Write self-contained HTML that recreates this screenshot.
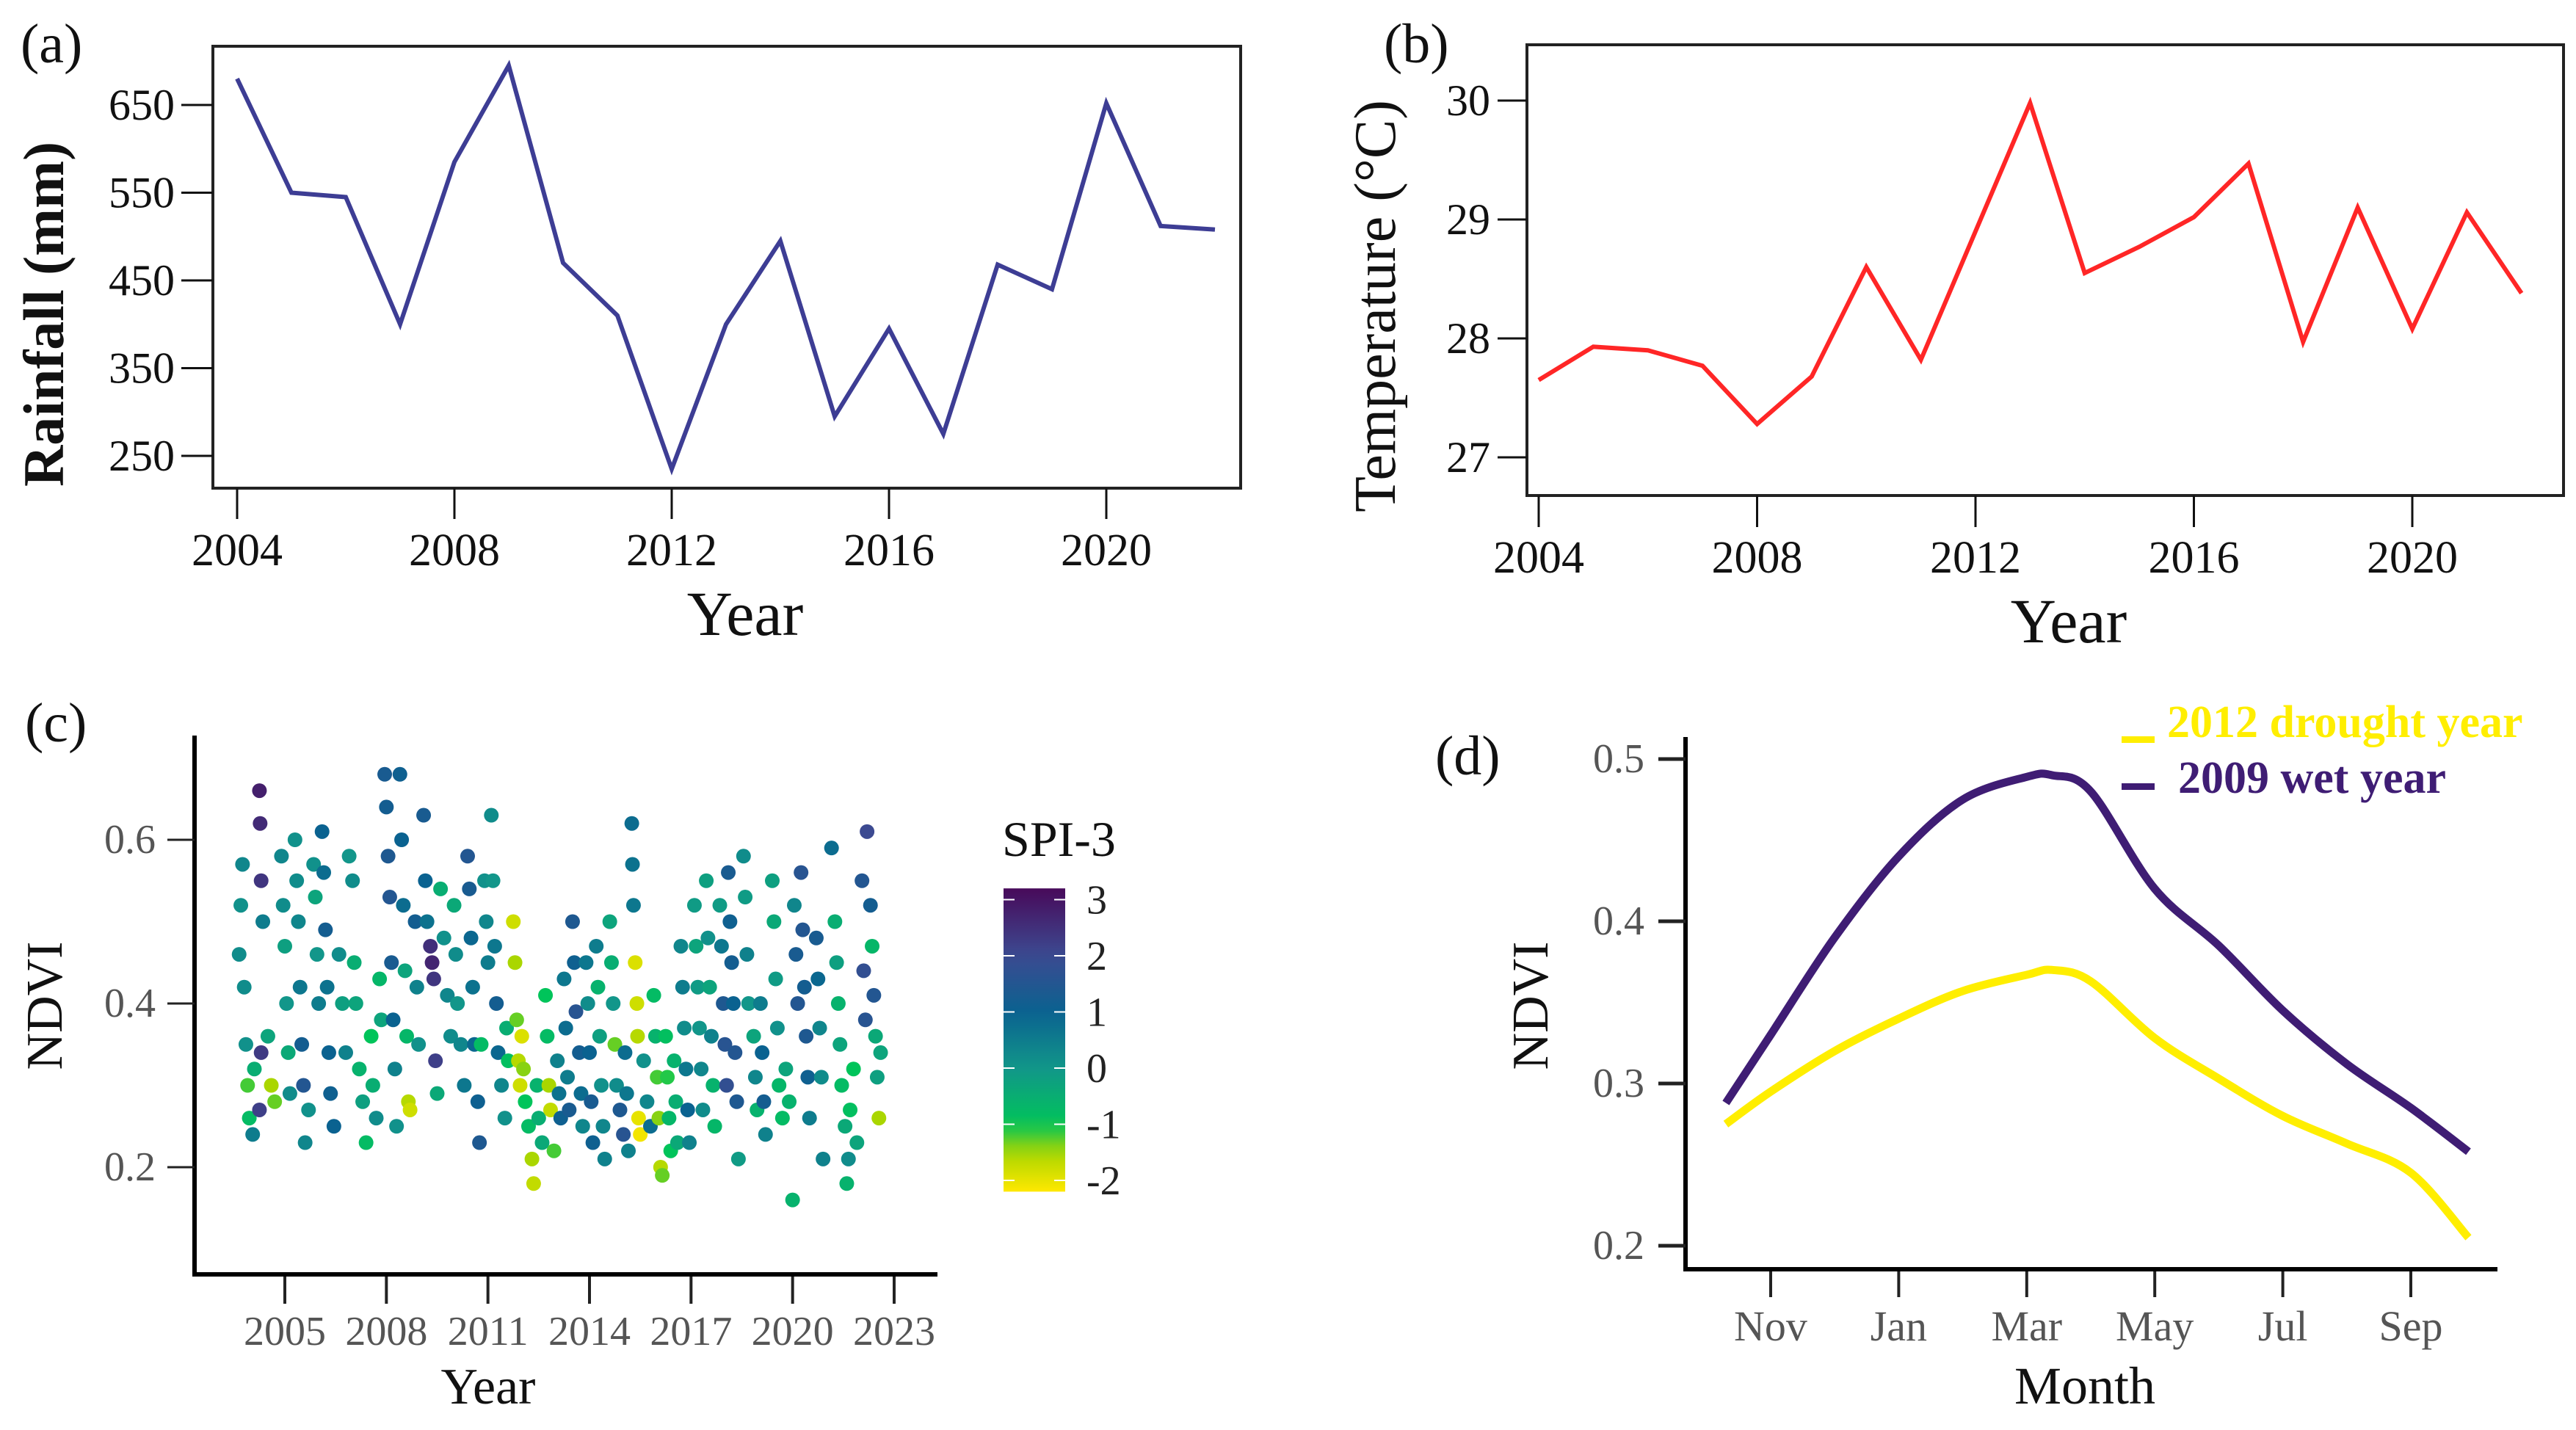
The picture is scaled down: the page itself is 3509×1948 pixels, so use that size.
<!DOCTYPE html>
<html><head><meta charset="utf-8">
<style>
html,body{margin:0;padding:0;background:#fff;}
svg{display:block;font-family:"Liberation Serif",serif;}
</style></head>
<body>
<svg id="fig" width="3509" height="1948" viewBox="0 0 3509 1948" xmlns="http://www.w3.org/2000/svg">
<rect x="0" y="0" width="3509" height="1948" fill="#fff"/>
<g id="pa"></g>
<g id="pb"></g>
<g id="pc"></g>
<g id="pd"></g>
</svg>
<script>
// ---- Panel (a) data ----
const rainYears = [2004,2005,2006,2007,2008,2009,2010,2011,2012,2013,2014,2015,2016,2017,2018,2019,2020,2021,2022];
const rainValues = [680,550,545,400,585,695,470,410,235,400,495,295,395,275,468,440,652,512,508];
const rainYTicks = [250,350,450,550,650];
const rainXTicks = [2004,2008,2012,2016,2020];
// ---- Panel (b) data ----
const tempYears = [2004,2005,2006,2007,2008,2009,2010,2011,2012,2013,2014,2015,2016,2017,2018,2019,2020,2021,2022];
const tempValues = [27.65,27.93,27.9,27.77,27.28,27.68,28.6,27.82,28.9,29.98,28.55,28.77,29.02,29.47,27.97,29.1,28.08,29.06,28.38];
const tempYTicks = [27,28,29,30];
const tempXTicks = [2004,2008,2012,2016,2020];
// ---- Panel (c) data ----
const ndviTime = [2003.65,2003.7,2003.75,2003.8,2003.85,2003.9,2003.95,2004.05,2004.1,2004.25,2004.27,2004.3,2004.3,2004.25,2004.35,2004.5,2004.6,2004.7,
2004.9,2004.95,2005.0,2005.05,2005.1,2005.15,2005.3,2005.35,2005.4,2005.45,2005.5,2005.55,2005.6,2005.7,
2005.85,2005.9,2005.95,2006.0,2006.1,2006.15,2006.2,2006.25,2006.3,2006.35,2006.45,2006.6,2006.7,2006.8,
2006.9,2007.0,2007.05,2007.1,2007.2,2007.3,2007.4,2007.55,2007.6,2007.7,2007.8,2007.85,
2007.95,2008.0,2008.05,2008.1,2008.15,2008.2,2008.25,2008.3,2008.4,2008.45,2008.5,2008.55,2008.6,2008.65,2008.7,
2008.85,2008.9,2008.95,2009.1,2009.15,2009.2,2009.3,2009.35,2009.4,2009.45,2009.5,2009.6,2009.7,2009.8,2009.9,
2010.0,2010.05,2010.1,2010.2,2010.3,2010.4,2010.45,2010.5,2010.55,2010.6,2010.7,2010.75,2010.8,
2010.9,2010.95,2011.0,2011.1,2011.15,2011.2,2011.25,2011.3,2011.4,2011.5,2011.55,2011.6,
2011.75,2011.8,2011.85,2011.9,2011.95,2012.0,2012.05,2012.1,2012.2,2012.3,2012.35,2012.45,2012.5,2012.6,
2012.7,2012.75,2012.8,2012.85,2012.95,2013.05,2013.1,2013.15,2013.25,2013.3,2013.35,2013.4,2013.5,2013.55,2013.6,
2013.7,2013.75,2013.8,2013.9,2013.95,2014.0,2014.05,2014.1,2014.2,2014.25,2014.3,2014.35,2014.4,2014.45,
2014.6,2014.65,2014.7,2014.75,2014.8,2014.9,2015.0,2015.05,2015.1,2015.15,2015.25,2015.27,2015.3,2015.35,2015.4,2015.42,
2015.45,2015.5,2015.6,2015.7,2015.8,2015.9,2015.95,2016.0,2016.05,2016.1,2016.15,
2016.25,2016.3,2016.35,2016.4,2016.5,2016.55,2016.6,2016.7,2016.75,2016.8,2016.85,2016.9,2016.95,
2017.1,2017.15,2017.2,2017.25,2017.3,2017.35,2017.45,2017.5,2017.55,2017.6,2017.65,2017.7,
2017.85,2017.9,2017.95,2018.0,2018.05,2018.1,2018.15,2018.2,2018.25,2018.3,2018.35,2018.4,2018.55,2018.6,2018.65,2018.7,
2018.85,2018.9,2018.95,2019.05,2019.1,2019.15,2019.2,
2019.4,2019.45,2019.5,2019.55,2019.6,2019.7,2019.8,2019.9,2020.0,2020.05,2020.1,2020.15,2020.25,2020.3,2020.35,2020.4,2020.45,2020.5,2020.7,2020.75,2020.8,2020.85,2020.9,
2021.15,2021.25,2021.3,2021.35,2021.4,2021.45,2021.55,2021.6,2021.65,2021.7,2021.8,2021.9,2022.05,2022.1,2022.15,2022.2,2022.3,2022.35,2022.4,2022.45,2022.5,2022.55,2022.6];
const ndviValue = [0.46,0.52,0.57,0.42,0.35,0.30,0.26,0.24,0.32,0.66,0.62,0.55,0.34,0.27,0.50,0.36,0.30,0.28,
0.58,0.52,0.47,0.40,0.34,0.29,0.60,0.55,0.50,0.42,0.35,0.30,0.23,0.27,
0.57,0.53,0.46,0.40,0.61,0.56,0.49,0.42,0.34,0.29,0.25,0.46,0.40,0.34,
0.58,0.55,0.45,0.40,0.32,0.28,0.23,0.36,0.30,0.26,0.43,0.38,
0.68,0.64,0.58,0.53,0.45,0.38,0.32,0.25,0.68,0.60,0.52,0.44,0.36,0.28,0.27,
0.50,0.42,0.35,0.63,0.55,0.50,0.47,0.45,0.43,0.33,0.29,0.54,0.48,0.41,0.36,
0.52,0.46,0.40,0.35,0.30,0.58,0.54,0.48,0.42,0.35,0.28,0.23,0.35,
0.55,0.50,0.45,0.63,0.55,0.47,0.40,0.34,0.30,0.26,0.37,0.33,
0.50,0.45,0.38,0.33,0.30,0.36,0.32,0.28,0.25,0.21,0.18,0.30,0.26,0.23,
0.41,0.36,0.30,0.27,0.22,0.33,0.29,0.26,0.43,0.37,0.31,0.27,0.50,0.45,0.39,
0.34,0.29,0.25,0.45,0.40,0.34,0.28,0.23,0.47,0.42,0.36,0.30,0.25,0.21,
0.50,0.45,0.40,0.35,0.30,0.27,0.24,0.34,0.29,0.22,0.62,0.57,0.52,0.45,0.40,0.36,
0.26,0.24,0.33,0.28,0.25,0.41,0.36,0.31,0.26,0.20,0.19,
0.36,0.31,0.26,0.22,0.33,0.28,0.23,0.47,0.42,0.37,0.32,0.27,0.23,
0.52,0.47,0.42,0.37,0.32,0.27,0.55,0.48,0.42,0.36,0.30,0.25,
0.52,0.47,0.40,0.35,0.30,0.56,0.50,0.45,0.40,0.34,0.28,0.21,0.58,0.53,0.46,0.40,
0.36,0.31,0.27,0.40,0.34,0.28,0.24,
0.55,0.50,0.43,0.37,0.30,0.26,0.32,0.28,0.16,0.52,0.46,0.40,0.56,0.49,0.42,0.36,0.31,0.26,0.48,0.43,0.37,0.31,0.21,
0.59,0.50,0.45,0.40,0.35,0.30,0.25,0.18,0.21,0.27,0.32,0.23,0.55,0.44,0.38,0.61,0.52,0.47,0.41,0.36,0.31,0.26,0.34];
const ndviSpi = [0.2,0.1,0.3,0.2,0.1,-1.2,-0.8,0.5,-0.5,2.8,2.6,2.4,2.3,2.2,0.5,-0.3,-1.5,-1.3,
0.3,0.2,-0.2,0,-0.4,0.2,0.1,0.2,0.3,0.6,1.2,1.5,0.3,0.1,
0.1,-0.3,0.0,0.5,1.0,0.8,1.2,0.7,1.0,1.1,1.0,0.2,-0.2,0.4,
0.0,0.2,-0.5,-0.3,-0.6,-0.2,-0.8,-1.0,-0.5,0.2,-0.7,-0.3,
1.3,1.2,1.4,1.5,1.3,1.0,0.4,0.1,1.1,1.0,0.8,-0.3,-0.7,-1.6,-1.8,
1.2,0.4,0.1,1.3,1.0,0.7,2.5,2.7,2.4,2.2,-0.4,-0.5,0.1,0.3,0.2,
-0.4,0.2,0.0,0.3,0.6,1.5,1.3,0.9,0.7,0.9,1.1,1.4,-0.8,
0.1,0.3,0.5,0.2,0.0,0.6,1.2,0.9,0.3,0.1,-0.5,-0.9,
-1.8,-1.5,-1.3,-1.6,-1.8,-1.9,-1.4,-1.0,-0.8,-1.5,-1.7,-0.6,-0.5,-0.4,
-1.0,-0.8,-1.5,-1.7,-1.2,0.4,0.7,1.1,0.6,0.8,0.5,1.3,1.4,1.1,1.6,
1.2,0.8,0.3,0.6,0.2,1.0,1.3,1.1,0.5,-0.6,-0.2,0.1,0.3,0.4,
-0.3,-0.5,0.0,-1.3,0.2,1.4,1.6,0.8,0.6,0.4,0.8,0.7,0.6,-1.9,-1.8,-1.6,
-2.0,-2.1,0.1,0.3,0.8,-0.8,-0.6,-1.2,-1.4,-1.6,-1.3,
-0.9,-1.1,-0.7,-1.0,-0.6,-0.5,-0.4,0.3,0.5,0.2,0.6,1.0,0.4,
-0.1,-0.3,-0.1,0.0,0.3,0.2,-0.2,0.1,-0.3,0.4,-0.6,-0.7,
-0.1,0.6,1.4,1.6,1.8,1.3,1.1,1.2,1.0,1.5,1.4,-0.1,0.2,-0.1,0.4,0.0,
-0.3,0.3,-0.6,0.5,1.0,1.2,0.4,
-0.2,-0.4,-0.1,0.1,-0.7,-0.8,-0.3,-0.6,-0.6,0.3,1.3,1.5,1.6,1.5,1.2,1.4,1.1,0.5,1.3,0.9,0.3,0.2,0.4,
0.8,-0.5,-0.2,-0.6,-0.3,-0.8,-0.4,-0.6,0.2,-0.9,-1.0,-0.3,1.5,1.8,1.6,2.0,1.2,-0.7,1.5,-0.4,-0.2,-1.5,-0.3];
const ndviYTicks = [0.2,0.4,0.6];
const ndviXTicks = [2005,2008,2011,2014,2017,2020,2023];
const spiTicks = [3,2,1,0,-1,-2];
// ---- Panel (d) data ----
const monthPos = [-0.7,0,1,2,3,4,4.4,5,6,7,8,9,10,10.9];
const wetNdvi = [0.288,0.330,0.390,0.440,0.475,0.489,0.490,0.480,0.420,0.385,0.345,0.312,0.285,0.258];
const dryNdvi = [0.275,0.295,0.320,0.340,0.357,0.367,0.370,0.363,0.328,0.303,0.280,0.263,0.245,0.205];
const monthTickPos = [0,2,4,6,8,10];
const monthTickLabels = ["Nov","Jan","Mar","May","Jul","Sep"];
const dTicks = [0.2,0.3,0.4,0.5];

const NS="http://www.w3.org/2000/svg";
function mk(parent, tag, attrs, text){
  const el=document.createElementNS(NS,tag);
  for(const k in attrs) el.setAttribute(k, attrs[k]);
  if(text!==undefined) el.textContent=text;
  parent.appendChild(el); return el;
}
function lin(d0,d1,r0,r1){return v=>r0+(v-d0)*(r1-r0)/(d1-d0);}

// ===== Panel A =====
(function(){
  const g=document.getElementById('pa');
  const x=lin(2004,2020,323,1507), y=lin(250,650,621,143);
  let e=mk(g,'rect',{x:290,y:63,width:1400,height:602,fill:'none',stroke:'#222','stroke-width':4});
   
  rainYTicks.forEach(v=>{
    let t=mk(g,'line',{x1:247,x2:290,y1:y(v),y2:y(v),stroke:'#111','stroke-width':3});
     
    let l=mk(g,'text',{x:238,y:y(v)+20,'font-size':60,'text-anchor':'end',fill:'#111'},String(v));
     
  });
  rainXTicks.forEach(v=>{
    let t=mk(g,'line',{x1:x(v),x2:x(v),y1:665,y2:707,stroke:'#111','stroke-width':3});
     
    let l=mk(g,'text',{x:x(v),y:770,'font-size':62,'text-anchor':'middle',fill:'#111'},String(v));
     
  });
  const pts=rainYears.map((yr,i)=>x(yr)+','+y(rainValues[i])).join(' ');
  e=mk(g,'polyline',{points:pts,fill:'none',stroke:'#3d3d94','stroke-width':6,'stroke-linejoin':'miter'});
   
  e=mk(g,'text',{x:1015,y:865,'font-size':86,'text-anchor':'middle',fill:'#111'},'Year');
   
  e=mk(g,'text',{x:0,y:0,'font-size':78,'font-weight':'bold','text-anchor':'middle',fill:'#111',transform:'translate(86,428) rotate(-90)'},'Rainfall (mm)');
   
  e=mk(g,'text',{x:28,y:85,'font-size':76,fill:'#111'},'(a)');
   
})();

// ===== Panel B =====
(function(){
  const g=document.getElementById('pb');
  const x=lin(2004,2020,2096,3286), y=lin(27,30,623,137);
  let e=mk(g,'rect',{x:2080,y:61,width:1412,height:614,fill:'none',stroke:'#222','stroke-width':4});
   
  tempYTicks.forEach(v=>{
    let t=mk(g,'line',{x1:2040,x2:2080,y1:y(v),y2:y(v),stroke:'#111','stroke-width':3});
     
    let l=mk(g,'text',{x:2030,y:y(v)+20,'font-size':60,'text-anchor':'end',fill:'#111'},String(v));
     
  });
  tempXTicks.forEach(v=>{
    let t=mk(g,'line',{x1:x(v),x2:x(v),y1:675,y2:718,stroke:'#111','stroke-width':3});
     
    let l=mk(g,'text',{x:x(v),y:780,'font-size':62,'text-anchor':'middle',fill:'#111'},String(v));
     
  });
  const pts=tempYears.map((yr,i)=>x(yr)+','+y(tempValues[i])).join(' ');
  e=mk(g,'polyline',{points:pts,fill:'none',stroke:'#ff2626','stroke-width':6});
   
  e=mk(g,'text',{x:2818,y:875,'font-size':86,'text-anchor':'middle',fill:'#111'},'Year');
   
  e=mk(g,'text',{x:0,y:0,'font-size':80,'text-anchor':'middle',fill:'#111',transform:'translate(1900,417) rotate(-90)'},'Temperature (°C)');
   
  e=mk(g,'text',{x:1885,y:85,'font-size':76,fill:'#111'},'(b)');
   
})();

// colour scale for SPI
const spiStops=[[-2.2,[255,232,0]],[-1.5,[170,214,0]],[-1,[0,196,90]],[0,[18,150,138]],[1,[10,98,144]],[2,[60,74,145]],[3.2,[72,10,90]]];
function spiColor(s){
  if(s<=spiStops[0][0]) return 'rgb('+spiStops[0][1]+')';
  for(let i=1;i<spiStops.length;i++){
    if(s<=spiStops[i][0]){
      const [a,ca]=spiStops[i-1],[b,cb]=spiStops[i]; const f=(s-a)/(b-a);
      return 'rgb('+ca.map((c,j)=>Math.round(c+(cb[j]-c)*f)).join(',')+')';
    }
  }
  return 'rgb('+spiStops[spiStops.length-1][1]+')';
}

// ===== Panel C =====
(function(){
  const g=document.getElementById('pc');
  const x=lin(2005,2023,388,1218), y=lin(0.2,0.6,1590,1144);
  ndviTime.forEach((t,i)=>{
    const c=mk(g,'circle',{cx:x(t),cy:y(ndviValue[i]),r:10,fill:spiColor(ndviSpi[i])});
    
    
  });
  let e=mk(g,'line',{x1:265,x2:265,y1:1002,y2:1739,stroke:'#000','stroke-width':6});
   
  e=mk(g,'line',{x1:262,x2:1277,y1:1736,y2:1736,stroke:'#000','stroke-width':6});
   
  ndviYTicks.forEach(v=>{
    let t=mk(g,'line',{x1:228,x2:265,y1:y(v),y2:y(v),stroke:'#222','stroke-width':3});
     
    let l=mk(g,'text',{x:212,y:y(v)+18,'font-size':56,'text-anchor':'end',fill:'#555'},v.toFixed(1));
     
  });
  ndviXTicks.forEach(v=>{
    let t=mk(g,'line',{x1:x(v),x2:x(v),y1:1739,y2:1776,stroke:'#222','stroke-width':4});
     
    let l=mk(g,'text',{x:x(v),y:1832,'font-size':56,'text-anchor':'middle',fill:'#555'},String(v));
     
  });
  e=mk(g,'text',{x:665,y:1912,'font-size':70,'text-anchor':'middle',fill:'#111'},'Year');
   
  e=mk(g,'text',{x:0,y:0,'font-size':70,'text-anchor':'middle',fill:'#111',transform:'translate(84,1370) rotate(-90)'},'NDVI');
   
  e=mk(g,'text',{x:34,y:1010,'font-size':76,fill:'#111'},'(c)');
   
  // colourbar
  const cy=lin(0,1,1455,1378.5);
  const defs=mk(g,'defs',{});
  const grad=mk(defs,'linearGradient',{id:'spiGrad',x1:0,y1:1,x2:0,y2:0});
  const lo=-2.2, hi=3.2;
  for(let k=0;k<=20;k++){const s=lo+(hi-lo)*k/20; mk(grad,'stop',{offset:(k/20),'stop-color':spiColor(s)});}
  e=mk(g,'rect',{x:1367,y:cy(hi),width:84,height:cy(lo)-cy(hi),fill:'url(#spiGrad)'});
   
  spiTicks.forEach(v=>{
    let t=mk(g,'line',{x1:1367,x2:1382,y1:cy(v),y2:cy(v),stroke:'#fff','stroke-width':2});
     
    let t2=mk(g,'line',{x1:1436,x2:1451,y1:cy(v),y2:cy(v),stroke:'#fff','stroke-width':2});
     
    let l=mk(g,'text',{x:1480,y:cy(v)+19,'font-size':56,fill:'#222'},String(v));
     
  });
  e=mk(g,'text',{x:1365,y:1166,'font-size':68,fill:'#111'},'SPI-3');
   
})();

// ===== Panel D =====
(function(){
  const g=document.getElementById('pd');
  const x=lin(0,10,2412,3284), y=lin(0.2,0.5,1697,1034);
  function smooth(vals){
    const P=monthPos.map((m,i)=>[x(m),y(vals[i])]);
    let d='M'+P[0][0]+','+P[0][1];
    for(let i=0;i<P.length-1;i++){
      const p0=P[Math.max(0,i-1)],p1=P[i],p2=P[i+1],p3=P[Math.min(P.length-1,i+2)];
      const c1=[p1[0]+(p2[0]-p0[0])/6,p1[1]+(p2[1]-p0[1])/6];
      const c2=[p2[0]-(p3[0]-p1[0])/6,p2[1]-(p3[1]-p1[1])/6];
      d+=' C'+c1+' '+c2+' '+p2;
    }
    return d;
  }
  let e=mk(g,'path',{d:smooth(dryNdvi),fill:'none',stroke:'#ffee00','stroke-width':11});
   
  e=mk(g,'path',{d:smooth(wetNdvi),fill:'none',stroke:'#3f1d74','stroke-width':11});
   
  e=mk(g,'line',{x1:2296,x2:2296,y1:1004,y2:1732,stroke:'#000','stroke-width':6});
   
  e=mk(g,'line',{x1:2293,x2:3402,y1:1729,y2:1729,stroke:'#000','stroke-width':6});
   
  dTicks.forEach(v=>{
    let t=mk(g,'line',{x1:2259,x2:2296,y1:y(v),y2:y(v),stroke:'#222','stroke-width':5});
     
    let l=mk(g,'text',{x:2240,y:y(v)+18,'font-size':56,'text-anchor':'end',fill:'#555'},v.toFixed(1));
     
  });
  monthTickPos.forEach((m,i)=>{
    let t=mk(g,'line',{x1:x(m),x2:x(m),y1:1732,y2:1767,stroke:'#222','stroke-width':4});
     
    let l=mk(g,'text',{x:x(m),y:1826,'font-size':58,'text-anchor':'middle',fill:'#555'},monthTickLabels[i]);
     
  });
  e=mk(g,'text',{x:2840,y:1912,'font-size':72,'text-anchor':'middle',fill:'#111'},'Month');
   
  e=mk(g,'text',{x:0,y:0,'font-size':70,'text-anchor':'middle',fill:'#111',transform:'translate(2108,1370) rotate(-90)'},'NDVI');
   
  e=mk(g,'text',{x:1955,y:1055,'font-size':76,fill:'#111'},'(d)');
   
  e=mk(g,'rect',{x:2890,y:1003,width:45,height:9,fill:'#ffee00'});
   
  e=mk(g,'text',{x:2952,y:1004,'font-size':62,'font-weight':'bold',fill:'#ffee00'},'2012 drought year');
   
  e=mk(g,'rect',{x:2890,y:1067,width:45,height:9,fill:'#3f1d74'});
   
  e=mk(g,'text',{x:2967,y:1080,'font-size':62,'font-weight':'bold',fill:'#3f1d74'},'2009 wet year');
   
})();
</script>
</body></html>
